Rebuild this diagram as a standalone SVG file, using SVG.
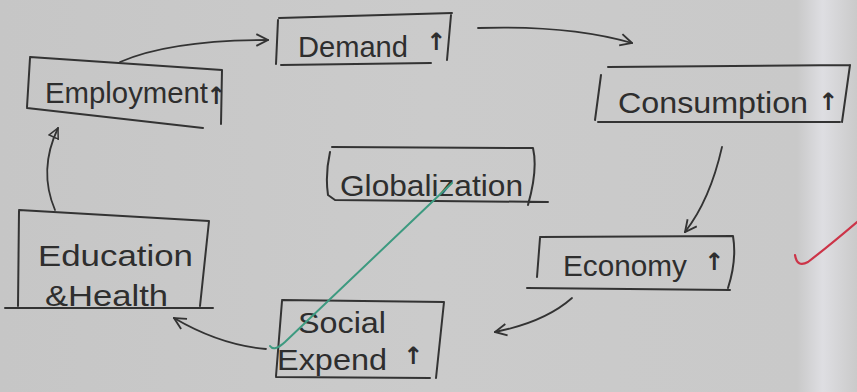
<svg xmlns="http://www.w3.org/2000/svg" width="857" height="392" viewBox="0 0 857 392">
<defs>
<linearGradient id="paper" x1="0" y1="0" x2="1" y2="0">
<stop offset="0" stop-color="#c6c6c6"/>
<stop offset="0.5" stop-color="#cbcbcb"/>
<stop offset="0.93" stop-color="#c9c9c9"/>
<stop offset="0.96" stop-color="#dedee2"/>
<stop offset="1" stop-color="#cacaca"/>
</linearGradient>
<marker id="ah" viewBox="0 0 12 12" refX="11" refY="6" markerWidth="14" markerHeight="14" markerUnits="userSpaceOnUse" orient="auto">
<path d="M1,1 L11,6 L1,11" fill="none" stroke="#333" stroke-width="1.6"/>
</marker>
<marker id="ahc" viewBox="0 0 12 12" refX="11" refY="6" markerWidth="12" markerHeight="12" markerUnits="userSpaceOnUse" orient="auto">
<path d="M1,1 L11,6 L1,11 Z" fill="none" stroke="#333" stroke-width="1.5"/>
</marker>
</defs>
<style>
.box{fill:none;stroke:#333;stroke-width:2;stroke-linecap:round;stroke-linejoin:round}
.lbl{font-family:"Liberation Sans",Arial,sans-serif;font-size:29px;fill:#2e2e2e}
.up{font-family:"DejaVu Sans",sans-serif;font-size:24px;font-weight:bold;fill:#2e2e2e}
.con{fill:none;stroke:#333;stroke-width:1.8;stroke-linecap:round}
</style>
<rect x="0" y="0" width="857" height="392" fill="url(#paper)"/>

<g id="demand">
<path class="box" d="M279,18 L452,13 M278,20 L276,64 M281,65 L431,63 M451,15 L447,60"/>
<text class="lbl" x="298" y="57" textLength="110" lengthAdjust="spacingAndGlyphs">Demand</text>
<text class="up" x="426" y="50">↑</text>
</g>

<g id="employment">
<path class="box" d="M30,57 L222,70 M30,58 L27,107 M27,108 L203,128 M222,70 L221,124"/>
<text class="lbl" x="45" y="103" textLength="163" lengthAdjust="spacingAndGlyphs">Employment</text>
<text class="up" x="206" y="104">↑</text>
</g>

<g id="consumption">
<path class="box" d="M608,67 L850,65 M601,75 L595,120 M598,122 L840,122 M850,65 L842,122"/>
<text class="lbl" x="618" y="113" textLength="190" lengthAdjust="spacingAndGlyphs">Consumption</text>
<text class="up" x="818" y="110">↑</text>
</g>

<g id="globalization">
<path class="box" d="M332,147 L533,148 Q538,170 528,205 M330,152 Q325,175 328,195 L335,200 L548,202"/>
<text class="lbl" x="340" y="196" textLength="183" lengthAdjust="spacingAndGlyphs">Globalization</text>
</g>

<g id="economy">
<path class="box" d="M540,237 L733,236 Q737,260 728,288 M540,238 L537,277 M527,288 L730,290"/>
<text class="lbl" x="563" y="276" textLength="124" lengthAdjust="spacingAndGlyphs">Economy</text>
<text class="up" x="704" y="270">↑</text>
</g>

<g id="education">
<path class="box" d="M19,210 L209,221 L200,306 M19,211 L18,306 M5,308 L213,308"/>
<text class="lbl" x="38" y="266" textLength="155" lengthAdjust="spacingAndGlyphs">Education</text>
<text class="lbl" x="45" y="306" textLength="123" lengthAdjust="spacingAndGlyphs">&amp;Health</text>
</g>

<g id="social">
<path class="box" d="M282,300 L444,302 L436,378 M282,301 L276,376 M276,377 L430,378"/>
<text class="lbl" x="298" y="333" textLength="88" lengthAdjust="spacingAndGlyphs">Social</text>
<text class="lbl" x="277" y="370" textLength="110" lengthAdjust="spacingAndGlyphs">Expend</text>
<text class="up" x="403" y="364">↑</text>
</g>

<g id="connectors">
<path class="con" marker-end="url(#ah)" d="M120,62 Q170,40 268,40"/>
<path class="con" marker-end="url(#ah)" d="M478,28 Q570,25 632,43"/>
<path class="con" marker-end="url(#ah)" d="M722,147 Q710,200 685,232"/>
<path class="con" marker-end="url(#ah)" d="M572,298 Q545,322 495,332"/>
<path class="con" marker-end="url(#ah)" d="M266,349 Q220,345 174,318"/>
<path class="con" marker-end="url(#ahc)" d="M55,210 Q38,170 58,128"/>
<path d="M452,183 L285,342 Q274,352 270,346" fill="none" stroke="#3d9a80" stroke-width="2" stroke-linecap="round"/>
</g>

<path d="M795,255 Q797,268 808,262 Q830,245 857,222" fill="none" stroke="#cc3448" stroke-width="2.2" stroke-linecap="round"/>
</svg>
